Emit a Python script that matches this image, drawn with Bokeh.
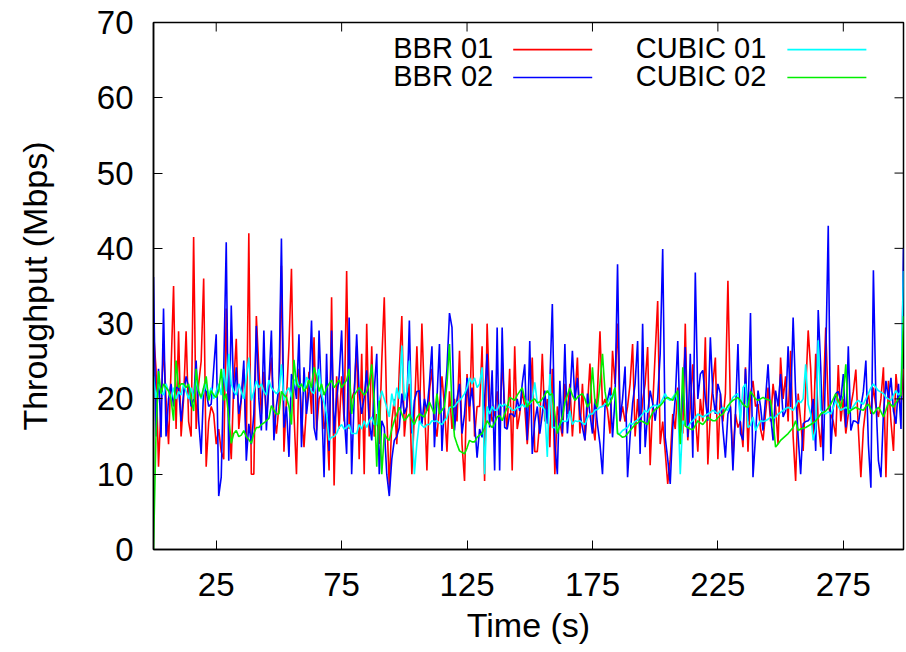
from bokeh.plotting import figure
from bokeh.models import FixedTicker, Range1d, Label
from bokeh.embed import file_html
from bokeh.resources import INLINE

# ---------------- data (Mbps, one sample per second) ----------------
bbr01 = [
    29, 24, 11, 19, 27, 20, 14, 24, 35, 16,
    29, 15, 20, 29, 17, 15, 41.5, 16, 22, 25,
    36, 11, 17, 19, 18, 14, 16, 13, 12, 32,
    17, 12, 22, 28, 16, 20, 24, 14, 42, 10,
    10, 31, 24, 18, 23.6, 17, 22, 25.5, 18, 15.4,
    19, 37.7, 13, 20, 27, 37.3, 18, 10, 24, 18,
    13.6, 19, 23.6, 18, 28.2, 15.8, 20, 20.7, 16, 17.6,
    10.5, 33.5, 8.5, 23, 16, 23, 17, 37, 16, 20,
    21, 27, 12, 26, 10, 30, 15, 27, 15, 18,
    14, 25, 33.5, 18, 8.3, 17, 20, 14, 24, 31,
    15, 19, 22, 10, 18, 27, 17, 30, 20, 10.5,
    21, 24, 17, 15, 19, 23, 19, 13, 21, 16,
    20, 17, 26.4, 14, 9.1, 23.3, 17, 30, 15, 19,
    19, 27, 9.1, 30, 20, 17, 18, 21, 16, 25,
    19, 16, 24, 10.5, 27, 16, 18, 21, 19, 14,
    19, 25.5, 13, 13, 17, 26, 17, 20, 13.6, 24,
    10, 19, 17, 15, 22, 18, 22, 15, 20, 25.5,
    15.4, 22, 14.5, 19, 24.7, 17, 14.5, 21, 29, 19,
    20, 18.5, 15.4, 26.4, 22, 30, 17, 19, 17, 19,
    22, 27.3, 15, 20, 15.4, 19.8, 22, 26.9, 11.2, 19,
    26, 33, 14, 17, 13, 8.7, 12, 18, 16, 21.5,
    17, 15.4, 30, 14.5, 19, 24.6, 18, 13, 20, 17,
    28.2, 11.3, 18, 22, 25.5, 12, 20.7, 17, 20.7, 35.7,
    18.9, 12.2, 18, 16.2, 17, 13.6, 24.2, 13, 20.7, 22.4,
    19, 19.3, 16, 14.5, 18, 21.5, 17, 22, 19, 14,
    25.5, 20, 23, 17, 26.4, 15, 9.1, 20.7, 17.1, 13.1,
    21, 29.1, 24, 15, 26, 17, 13.6, 20, 29.5, 19,
    18, 17, 15, 24.5, 17, 20, 15.4, 18, 19, 21,
    23.9, 16, 9.6, 16, 19, 20.7, 18, 21.5, 19, 17.6,
    20, 24.2, 9.6, 22.4, 17, 13.1, 23.3, 19.8, 19, 24,
]

bbr02 = [
    36.2, 15, 24, 14.9, 32, 15, 20, 22, 19, 21.5,
    21.5, 17, 20.7, 23, 21.5, 19, 20, 25.1, 17.1, 12.7,
    21.5, 21, 19, 19.3, 24, 28.6, 7.1, 9.6, 24, 40.8,
    11.8, 32.4, 20, 24.2, 18, 20, 25.1, 11.8, 16.7, 14,
    18, 29.7, 20, 15.8, 29.1, 15.8, 22, 29.1, 14.5, 19,
    21.6, 41.3, 16.2, 19, 12.3, 23.3, 22.4, 20, 28.6, 13.6,
    24.2, 18, 21, 30.4, 16.2, 14.5, 29.1, 20, 9.6, 26,
    13.1, 29.1, 15.4, 20, 23, 29.1, 18, 12.7, 30.8, 10,
    20, 28.6, 20.7, 18, 20.2, 23.8, 17, 14.5, 21.1, 26,
    10, 17.1, 16.2, 10, 7.1, 12, 14.5, 15, 16.2, 20.7,
    18, 19, 30.4, 15.4, 19.8, 21, 21.1, 16.6, 20, 18.4,
    22, 27, 13.6, 20, 27.3, 13.1, 19.8, 24, 31.4, 29.5,
    15.8, 20, 22, 15.4, 18, 22.8, 19, 21.5, 17, 12.2,
    16, 14.9, 20, 26, 16.2, 23.8, 10.5, 29.5, 10.5, 29.5,
    16.2, 16, 18, 18, 17.6, 20, 18.4, 22, 24.6, 14.5,
    27.7, 12.7, 17, 19, 15.4, 18, 21.1, 16.7, 22, 32.6,
    14, 10, 22.4, 15.4, 27.3, 15.4, 20, 26.4, 19.8, 22.8,
    18, 16.2, 14.5, 20.7, 18, 15.4, 20, 16.6, 14, 10,
    19, 19.8, 21.5, 14.9, 20, 37.9, 17.1, 20, 24.3, 9.6,
    15, 19.4, 22, 27.7, 12.7, 30, 13.6, 18, 21.1, 19.4,
    17.1, 20, 26, 39.9, 14.9, 12, 8.7, 16.2, 20, 27.7,
    15.4, 20, 26.9, 14.9, 26, 12.2, 36.8, 20, 23.3, 23.8,
    20, 17.1, 28.2, 20.7, 18, 22, 20.7, 16, 12.2, 18,
    19, 10.5, 18, 27.3, 15.4, 14.5, 24, 17, 31.4, 9.6,
    15, 21.1, 19, 15.8, 20, 24.6, 18, 14.5, 21.1, 19,
    23.3, 17.6, 18.4, 27, 18.9, 30.8, 20.7, 15, 10, 16.7,
    17, 17.1, 17.6, 20, 13.1, 31.8, 24.2, 11.8, 25.1, 43,
    12.7, 19, 20.7, 21, 19.8, 23.3, 16.2, 27, 15.8, 17.1,
    17, 16.7, 18.9, 21, 25.1, 14, 8.2, 37.1, 20, 11.8,
    9.6, 18, 22.4, 20, 22.8, 18.4, 16.7, 22, 16, 40,
]

cubic01 = [
    23, 20, 22, 21, 20.5, 22, 21, 20, 21.5, 20,
    21, 20.5, 22, 21, 20, 21.5, 20, 22.5, 21, 20,
    21, 22, 20.5, 21.5, 20, 21, 22, 20.5, 24, 21,
    26, 22, 21, 20.5, 22, 21, 20, 23, 25.5, 19.8,
    21, 22.4, 21.5, 22, 21, 20.5, 22.5, 21.5, 21.1, 20.7,
    21, 24.6, 19.8, 21, 21.5, 20.2, 22, 22.9, 21.5, 22,
    21, 22.9, 22.4, 21, 20.7, 22.4, 24, 20.7, 19.5, 18,
    14.5, 14.9, 15, 15.4, 16.2, 16.6, 16, 16.2, 16.6, 15.4,
    15.4, 15.4, 16.6, 16, 17.1, 16.2, 17.1, 17.6, 16.6, 16.6,
    19.8, 21.1, 20, 18.9, 17.6, 20.7, 19, 21.5, 20, 27.1,
    19.8, 21, 25.1, 18, 10, 14.1, 17.1, 16.5, 16.2, 16.6,
    16.6, 17.1, 17, 17.1, 16.8, 16.6, 17.1, 17.5, 18.9, 18.9,
    19, 19.5, 19.8, 20.2, 20.7, 21.5, 22.8, 22, 22.8, 21.5,
    22, 24.2, 10, 19, 18, 19, 18.5, 18.5, 19.3, 19,
    19.3, 19, 18.9, 18.5, 18.5, 18.9, 18.9, 19.3, 18.9, 19.8,
    19.3, 19.8, 22.2, 19.5, 19, 19, 18.5, 12.3, 23.3, 16.2,
    16.2, 15.8, 16.6, 17.1, 17, 17.1, 18.4, 16.6, 17.1, 17,
    17.1, 16.8, 16.6, 17.5, 18, 18, 18.5, 18.6, 18.9, 19,
    19.3, 19.5, 20.2, 20.5, 21.5, 15.4, 15.4, 15.8, 16, 16.2,
    16.8, 16.6, 17, 17.2, 17.6, 18, 18.5, 18.2, 18.8, 19,
    19.2, 19, 19.3, 20, 20.7, 20, 19.8, 20.2, 20.7, 19.8,
    10, 17.1, 16.5, 16.2, 16.8, 17.1, 17.5, 18, 17.8, 17.6,
    17.8, 18, 18.2, 18.5, 18.3, 18, 18.5, 18.9, 18.6, 18.5,
    19.5, 20.2, 20.5, 20.7, 17.1, 21.5, 22, 16.2, 16.5, 17.6,
    15.8, 16.5, 17.1, 17, 17.1, 17.3, 17.6, 17.4, 17.6, 18,
    18.2, 18.5, 18.7, 18.9, 18.7, 18.5, 19, 19.8, 19.5, 20,
    24.6, 19.3, 18, 14.5, 16, 27.8, 18.5, 18.2, 18, 18.3,
    18, 18.8, 19.8, 19, 18.5, 18.7, 18.9, 18.7, 18.5, 19,
    19.5, 19.8, 19.5, 19.3, 20, 20.7, 21.5, 22, 21.5, 21.1,
    20.9, 20.7, 20.2, 20, 19.8, 20.5, 21.1, 20.5, 21, 37,
]

cubic02 = [
    0, 15.4, 23.7, 20.7, 22, 21.5, 21.1, 20, 17.1, 25.1,
    21.5, 22, 22, 21.5, 22, 20, 18.4, 24, 21, 20.2,
    21.5, 23, 19.8, 21.1, 20.5, 20.2, 21, 24, 19.8, 20.7,
    17.5, 14.1, 15.4, 15.8, 15, 15.2, 15.8, 15, 14.6, 14.1,
    15.4, 16.2, 16.2, 16.6, 16.8, 17.1, 17.4, 19.1, 18.5, 18,
    18, 21, 20.5, 20.2, 19, 16.6, 25.2, 22, 21.5, 22,
    21, 21.5, 22.5, 21.5, 24.2, 23, 21, 22, 20.5, 21.5,
    22, 22.5, 21.5, 22, 22.5, 21.5, 22, 22.5, 24, 18,
    20.5, 21, 21.5, 21, 20.5, 21, 22, 24.6, 19.8, 11,
    19.8, 10, 15.4, 14.8, 14.5, 16, 17.1, 18, 18.9, 18,
    17.1, 17.5, 18, 17.2, 16.6, 17.5, 18, 17.8, 17.6, 18.5,
    19.6, 18.8, 18, 20.7, 18, 18.5, 19, 22, 27.3, 19,
    15, 14, 13.1, 12.9, 12.7, 13.5, 14.5, 14.3, 14.3, 14.9,
    15.2, 15.4, 16.2, 17.1, 16.6, 16.2, 16.8, 17.6, 17.8, 17.1,
    18, 18.9, 20.2, 20, 19.8, 20.5, 21, 21.5, 20, 18.9,
    19.5, 19.8, 20, 19.5, 19.6, 20, 20.5, 21.1, 20.5, 20.7,
    18, 15.4, 16.5, 17.6, 19.5, 20.5, 21.5, 20.5, 19.8, 20.2,
    20.5, 20.7, 20, 18.9, 19.5, 24.2, 19.5, 18.9, 22, 26,
    21, 19, 19.5, 20.2, 21.5, 15.4, 15.2, 14.9, 15, 15.4,
    15.8, 16.2, 16.6, 16.8, 17.1, 17, 16.8, 16.6, 17.5, 18.2,
    18.6, 18.8, 19.1, 19.5, 20, 20.2, 20, 19.8, 20.5, 21.1,
    14, 24.2, 16.4, 16.2, 16, 15.9, 16.5, 17.1, 16.8, 16.6,
    17, 17.6, 17.3, 17.1, 17.1, 17.5, 17.8, 18, 18.5, 19.1,
    19.5, 19.8, 20, 20.2, 19.8, 19.3, 19, 18.9, 21, 20.5,
    20, 19.8, 20, 20.2, 20, 19.9, 19.8, 17.1, 13.6, 14,
    14.5, 14.8, 15.1, 15.4, 15.8, 16.2, 17.1, 15.8, 16, 16.1,
    16.2, 16.4, 16.6, 16.8, 17.1, 17.5, 18, 18.2, 18.4, 18.8,
    19.3, 20, 20.7, 19.8, 18.9, 20.5, 24.6, 18, 18.5, 18.7,
    18.9, 18.7, 18.6, 18.5, 19, 19.3, 18.6, 18, 18.5, 18.9,
    18.3, 17.6, 18.5, 19.6, 19.2, 18.9, 19.5, 20, 20.5, 31,
]

series_names = ["BBR 01", "BBR 02", "CUBIC 01", "CUBIC 02"]
series_values = [bbr01, bbr02, cubic01, cubic02]
series_colors = ["#ff0000", "#0000ff", "#00ffff", "#00ee00"]

x_ticks = [25, 75, 125, 175, 225, 275]
y_ticks = [0, 10, 20, 30, 40, 50, 60, 70]

X_MIN, X_MAX = 0, 299
Y_MIN, Y_MAX = 0, 70

FONT = "Liberation Sans"
TICK_FS = "33px"
TITLE_FS = "34px"
LEG_FS = "29px"

W, H = 906, 652
B_LEFT, B_RIGHT, B_TOP, B_BOTTOM = 153, 3, 22, 103
TICK_LEN = 9  # px, ticks drawn inward

p = figure(width=W, height=H, output_backend="svg", toolbar_location=None,
           x_range=Range1d(X_MIN, X_MAX), y_range=Range1d(Y_MIN, Y_MAX),
           min_border_left=B_LEFT, min_border_right=B_RIGHT,
           min_border_top=B_TOP, min_border_bottom=B_BOTTOM)
p.grid.visible = False
p.outline_line_color = "black"
p.outline_line_width = 1.5
p.background_fill_color = "white"
p.border_fill_color = "white"

for vals, col in zip(series_values, series_colors):
    p.line(list(range(len(vals))), vals, line_color=col, line_width=1.6)

def style_axis(ax, ticks):
    ax.ticker = FixedTicker(ticks=ticks)
    ax.major_tick_in = TICK_LEN
    ax.major_tick_out = 0
    ax.minor_tick_in = 0
    ax.minor_tick_out = 0
    ax.major_tick_line_color = "black"
    ax.major_tick_line_width = 1
    ax.axis_line_color = "black"
    ax.axis_line_width = 1.5
    ax.major_label_text_font = FONT
    ax.major_label_text_color = "black"
    ax.major_label_text_font_size = TICK_FS
    ax.axis_label_text_font = FONT
    ax.axis_label_text_font_size = TITLE_FS
    ax.axis_label_text_font_style = "normal"
    ax.axis_label_text_color = "black"

xa = p.xaxis[0]
style_axis(xa, x_ticks)
xa.major_label_standoff = 23
xa.axis_label = "Time (s)"
xa.axis_label_standoff = 7

ya = p.yaxis[0]
style_axis(ya, y_ticks)
ya.major_label_standoff = 20
ya.axis_label = "Throughput (Mbps)"
ya.axis_label_standoff = 40

# mirrored inward ticks on the top and right borders (gnuplot style)
frame_w = W - B_LEFT - B_RIGHT
frame_h = H - B_TOP - B_BOTTOM
dx = TICK_LEN * (X_MAX - X_MIN) / frame_w
dy = TICK_LEN * (Y_MAX - Y_MIN) / frame_h
p.segment(x0=x_ticks, y0=[Y_MAX] * len(x_ticks), x1=x_ticks, y1=[Y_MAX - dy] * len(x_ticks),
          line_color="black", line_width=1)
inner_y = y_ticks[1:-1]
p.segment(x0=[X_MAX] * len(inner_y), y0=inner_y, x1=[X_MAX - dx] * len(inner_y), y1=inner_y,
          line_color="black", line_width=1)

# legend (gnuplot style: label, then line sample), placed in data space
leg_text_x = [135.4, 135.4, 244.3, 244.3]
leg_line_x = [(143.4, 174.9), (143.4, 174.9), (252.7, 284.2), (252.7, 284.2)]
leg_y = [66.6, 62.9, 66.6, 62.9]
for name, col, tx, (lx0, lx1), ly in zip(series_names, series_colors, leg_text_x, leg_line_x, leg_y):
    p.add_layout(Label(x=tx, y=ly, text=name, text_font=FONT, text_font_size=LEG_FS,
                       text_color="black", text_align="right", text_baseline="middle"))
    p.line([lx0, lx1], [ly - 0.2, ly - 0.2], line_color=col, line_width=1.6)

open("out.html", "w").write(file_html(p, INLINE))
